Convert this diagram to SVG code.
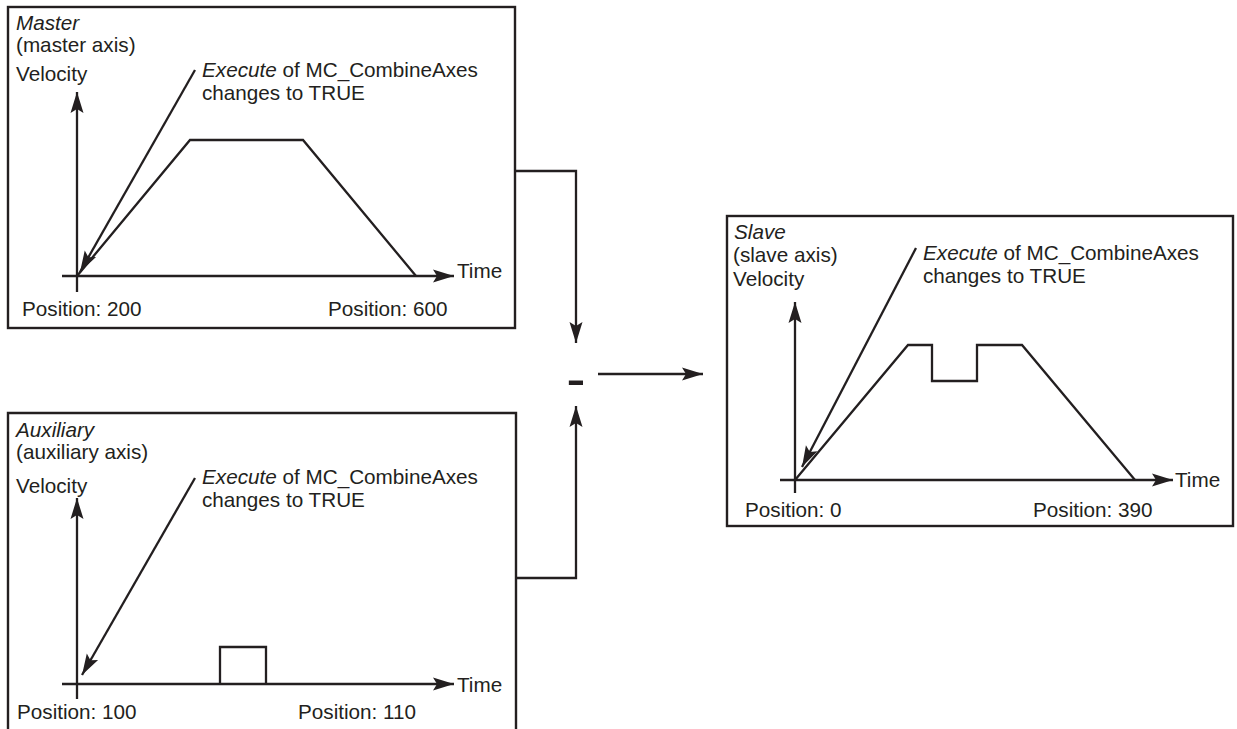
<svg xmlns="http://www.w3.org/2000/svg" width="1237" height="729" viewBox="0 0 1237 729">
<defs>
<style>
.t{font-family:"Liberation Sans",Arial,sans-serif;font-size:20.7px;fill:#231f20}
.i{font-style:italic}
.box{fill:none;stroke:#231f20;stroke-width:2.4}
.ln{fill:none;stroke:#231f20;stroke-width:2.3}
.ar{fill:none;stroke:#231f20;stroke-width:2.3;marker-end:url(#ah)}
</style>
<marker id="ah" markerUnits="userSpaceOnUse" markerWidth="24" markerHeight="16" viewBox="-22 -8 24 16" refX="0" refY="0" orient="auto">
<path d="M0,0 L-21,-6.5 L-17,0 L-21,6.5 Z" fill="#231f20"/>
</marker>
</defs>
<rect width="1237" height="729" fill="#fff"/>

<g id="master">
<rect class="box" x="8" y="7" width="507" height="321"/>
<text class="t i" x="16" y="30">Master</text>
<text class="t" x="16" y="52">(master axis)</text>
<text class="t" x="16" y="81">Velocity</text>
<text class="t" x="202" y="77"><tspan class="i">Execute</tspan> of MC_CombineAxes</text>
<text class="t" x="202" y="100">changes to TRUE</text>
<path class="ar" d="M77,292 V92"/>
<path class="ar" d="M62,276 H454"/>
<path class="ln" d="M77,276 L190,140 H303 L416,276"/>
<path class="ar" d="M195,70 L80,272"/>
<text class="t" x="457" y="278">Time</text>
<text class="t" x="22" y="316">Position: 200</text>
<text class="t" x="328" y="316">Position: 600</text>
</g>

<g id="auxiliary">
<path class="box" d="M8,729 V413 H516 V729"/>
<text class="t i" x="16" y="437">Auxiliary</text>
<text class="t" x="16" y="459">(auxiliary axis)</text>
<text class="t" x="16" y="493">Velocity</text>
<text class="t" x="202" y="484"><tspan class="i">Execute</tspan> of MC_CombineAxes</text>
<text class="t" x="202" y="507">changes to TRUE</text>
<path class="ar" d="M77,699 V498"/>
<path class="ar" d="M62,684 H454"/>
<path class="ln" d="M220,684 V647 H266 V684"/>
<path class="ar" d="M195,478 L82,675"/>
<text class="t" x="457" y="692">Time</text>
<text class="t" x="17" y="719">Position: 100</text>
<text class="t" x="298" y="719">Position: 110</text>
</g>

<g id="slave">
<rect class="box" x="727" y="216" width="506" height="310"/>
<text class="t i" x="734" y="239">Slave</text>
<text class="t" x="733" y="262">(slave axis)</text>
<text class="t" x="733" y="286">Velocity</text>
<text class="t" x="923" y="260"><tspan class="i">Execute</tspan> of MC_CombineAxes</text>
<text class="t" x="923" y="283">changes to TRUE</text>
<path class="ar" d="M795,493 V302"/>
<path class="ar" d="M780,480 H1173"/>
<path class="ln" d="M795,480 L908,345 H932 V381 H977 V345 H1022 L1135,480"/>
<path class="ar" d="M916,248 L802,467"/>
<text class="t" x="1175" y="487">Time</text>
<text class="t" x="745" y="517">Position: 0</text>
<text class="t" x="1033" y="517">Position: 390</text>
</g>

<g id="connectors">
<path class="ar" d="M515,171 H576 V343"/>
<path class="ar" d="M515,578 H576 V406"/>
<path class="ar" d="M598,374 H703"/>
<text id="minus" x="576" y="398" text-anchor="middle" style="font-family:'Liberation Sans',Arial,sans-serif;font-size:58px;fill:#231f20">-</text>
</g>
</svg>
